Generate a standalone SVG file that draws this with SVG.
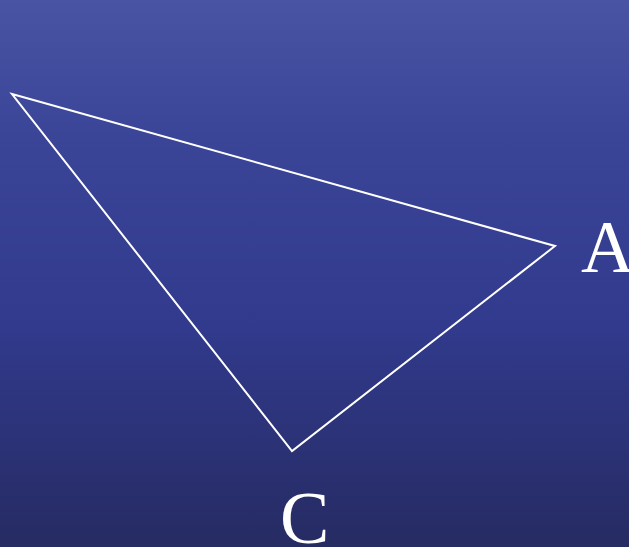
<svg xmlns="http://www.w3.org/2000/svg" width="629" height="547" viewBox="0 0 629 547">
<defs>
<linearGradient id="bg" x1="0" y1="0" x2="0" y2="1">
<stop offset="0" stop-color="#4a54a4"/>
<stop offset="0.25" stop-color="#3b4598"/>
<stop offset="0.6" stop-color="#313a8c"/>
<stop offset="1" stop-color="#262b62"/>
</linearGradient>
</defs>
<style>
.lbl{font-family:"Liberation Serif","Times New Roman",serif;font-size:74px;fill:#ffffff}
.edge{fill:none;stroke:#ffffff;stroke-width:2}
</style>
<rect width="629" height="547" fill="url(#bg)"/>
<g id="connectors">
<polygon class="edge" points="12,94 555,246 292,451"/>
</g>
<g id="node-A"><text class="lbl" x="581" y="272">A</text></g>
<g id="node-C"><text class="lbl" x="280" y="543">C</text></g>
</svg>
